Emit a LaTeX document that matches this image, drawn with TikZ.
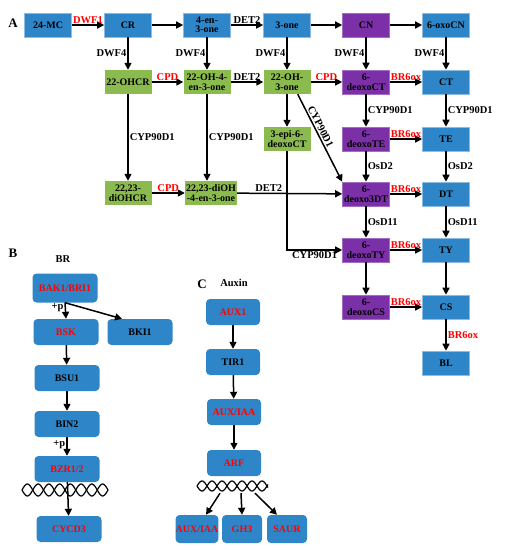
\documentclass[tikz,border=0pt]{standalone}
\usepackage{fontspec}
\setmainfont{Liberation Serif}
\usetikzlibrary{arrows.meta, positioning, calc}
\definecolor{brBlue}{HTML}{2E86C8}
\definecolor{brGreen}{HTML}{8BBB4E}
\definecolor{brPurple}{HTML}{7B30A8}
\definecolor{enzRed}{HTML}{FF0000}

\begin{document}
\begin{tikzpicture}[x=1pt,y=-1pt,
    met/.style={rectangle,minimum width=47pt,minimum height=24pt,inner sep=1pt,align=center,
                font=\fontsize{10}{9.5}\selectfont\bfseries},
    bluebox/.style={met,fill=brBlue,draw=brBlue!55!white,line width=0.6pt},
    greenbox/.style={met,fill=brGreen},
    purplebox/.style={met,fill=brPurple,draw=brPurple!70!white,line width=0.6pt},
    sigbox/.style={rectangle,rounded corners=4pt,fill=brBlue,minimum width=65pt,minimum height=26pt,
                   inner sep=1pt,font=\fontsize{10}{10}\selectfont\bfseries},
    arr/.style={-{Triangle[length=7pt,width=7pt]},line width=1.5pt,black},
    enz/.style={font=\fontsize{10.5}{10.5}\selectfont\bfseries,inner sep=1pt},
    redenz/.style={enz,text=enzRed},
    panel/.style={font=\fontsize{13}{13}\selectfont\bfseries},
    dna/.style={line width=1.2pt,black}
]
    \useasboundingbox (0,0) rectangle (505,550);

    % Panel A: pathway
    \node[panel] (labA) at (13,23) {A};
    \node[bluebox] (mc24) at (48,25) {24-MC};
    \node[bluebox] (cr) at (128,25) {CR};
    \node[bluebox] (en3) at (207,25) {4-en-\\3-one};
    \node[bluebox] (one3) at (287,25) {3-one};
    \node[purplebox] (cn) at (366,25) {CN};
    \node[bluebox] (oxocn) at (446,25) {6-oxoCN};

    \node[greenbox] (ohcr) at (128,82) {22-OHCR};
    \node[greenbox] (ohen) at (207,82) {22-OH-4-\\en-3-one};
    \node[greenbox] (ohone) at (287,82) {22-OH-\\3-one};
    \node[purplebox] (dct) at (366,82) {6-\\deoxoCT};
    \node[bluebox] (ct) at (446,82) {CT};

    \node[greenbox] (epi) at (287,139) {3-epi-6-\\deoxoCT};
    \node[purplebox] (dte) at (366,139) {6-\\deoxoTE};
    \node[bluebox] (te) at (446,139) {TE};

    \node[greenbox] (diohcr) at (128,193) {22,23-\\diOHCR};
    \node[greenbox,minimum width=52pt] (diohen) at (211,193) {22,23-diOH\\-4-en-3-one};
    \node[purplebox] (d3dt) at (366,194) {6-\\deoxo3DT};
    \node[bluebox] (dt) at (446,194) {DT};

    \node[purplebox] (dty) at (366,250) {6-\\deoxoTY};
    \node[bluebox] (ty) at (446,250) {TY};
    \node[purplebox] (dcs) at (366,307) {6-\\deoxoCS};
    \node[bluebox] (cs) at (446,307) {CS};
    \node[bluebox] (bl) at (446,363) {BL};

    % top row
    \draw[arr] (mc24) -- node[redenz,above]{DWF1} (cr);
    \draw[arr] (cr) -- (en3);
    \draw[arr] (en3) -- node[enz,above]{DET2} (one3);
    \draw[arr] (one3) -- (cn);
    \draw[arr] (cn) -- (oxocn);

    % DWF4 steps
    \draw[arr] (cr) -- node[enz,left]{DWF4} (ohcr);
    \draw[arr] (en3) -- node[enz,left]{DWF4} (ohen);
    \draw[arr] (one3) -- node[enz,left]{DWF4} (ohone);
    \draw[arr] (cn) -- node[enz,left]{DWF4} (dct);
    \draw[arr] (oxocn) -- node[enz,left]{DWF4} (ct);

    % second row
    \draw[arr] (ohcr) -- node[redenz,above]{CPD} (ohen);
    \draw[arr] (ohen) -- node[enz,above]{DET2} (ohone);
    \draw[arr] (ohone) -- node[redenz,above]{CPD} (dct);
    \draw[arr] (dct) -- node[redenz,above]{BR6ox} (ct);

    % late C-6 oxidation branch
    \draw[arr] (ohcr) -- node[enz,right]{CYP90D1} (diohcr);
    \draw[arr] (ohen) -- node[enz,right]{CYP90D1} (ohen |- diohen.north);
    \draw[arr] (diohcr) -- node[redenz,above]{CPD} (diohen);
    \draw[arr] (diohen) -- node[enz,above,pos=0.3]{DET2} (d3dt);
    \draw[arr] (ohone) -- (epi);
    \draw[arr] (epi) |- node[enz,below,pos=0.75]{CYP90D1} (dty);
    \draw[arr] (ohone.south east) ++(-13,0) -- node[enz,sloped,above=1.5pt,pos=0.4,inner sep=0pt]{CYP90D1} (d3dt.north west);

    \draw[arr] (dct) -- node[enz,right]{CYP90D1} (dte);
    \draw[arr] (ct) -- node[enz,right]{CYP90D1} (te);
    \draw[arr] (dte) -- node[enz,right]{OsD2} (d3dt);
    \draw[arr] (te) -- node[enz,right]{OsD2} (dt);
    \draw[arr] (d3dt) -- node[enz,right]{OsD11} (dty);
    \draw[arr] (dt) -- node[enz,right]{OsD11} (ty);
    \draw[arr] (dty) -- (dcs);
    \draw[arr] (ty) -- (cs);
    \draw[arr] (cs) -- node[redenz,right]{BR6ox} (bl);

    \draw[arr] (dte) -- node[redenz,above]{BR6ox} (te);
    \draw[arr] (d3dt) -- node[redenz,above]{BR6ox} (dt);
    \draw[arr] (dty) -- node[redenz,above]{BR6ox} (ty);
    \draw[arr] (dcs) -- node[redenz,above]{BR6ox} (cs);

    % Panel B: BR signalling
    \node[panel] (labB) at (13,253) {B};
    \node[enz] (brlab) at (63,259) {BR};
    \node[sigbox,minimum height=29pt,text=enzRed] (bak) at (65,288) {BAK1/BRI1};
    \node[sigbox,text=enzRed] (bsk) at (66,332) {BSK};
    \node[sigbox] (bki) at (140,332) {BKI1};
    \node[sigbox] (bsu) at (67,378) {BSU1};
    \node[sigbox] (bin) at (67,424) {BIN2};
    \node[sigbox,text=enzRed] (bzr) at (67,469) {BZR1/2};
    \node[sigbox,text=enzRed] (cycd) at (69,529) {CYCD3};

    \draw[dna] plot[domain=0:86,samples=100] ({22+\x},{490+6*sin(16.744*\x)});
    \draw[dna] plot[domain=0:86,samples=100] ({22+\x},{490-6*sin(16.744*\x)});

    \draw[arr] (bak.south) -- node[enz,left,pos=0.3]{+p} (bsk.north);
    \draw[arr] (bak.south) -- ($(bki.north)+(-18,0)$);
    \draw[arr] (bsk) -- (bsu);
    \draw[arr] (bsu) -- (bin);
    \draw[arr] (bin) -- node[enz,left,pos=0.4]{+p} (bzr);
    \draw[arr] (bzr) -- (cycd);

    % Panel C: auxin signalling
    \node[panel] (labC) at (202,284) {C};
    \node[enz] (auxlab) at (234,283) {Auxin};
    \node[sigbox,minimum width=54pt,text=enzRed] (aux1) at (233,312) {AUX1};
    \node[sigbox,minimum width=54pt] (tir) at (233,362) {TIR1};
    \node[sigbox,minimum width=54pt,text=enzRed] (iaa) at (234,412) {AUX/IAA};
    \node[sigbox,minimum width=54pt,text=enzRed] (arf) at (234,463) {ARF};
    \node[sigbox,minimum width=40pt,minimum height=28pt,inner sep=0pt,text=enzRed] (auxb) at (197,529) {AUX/IAA};
    \node[sigbox,minimum width=40pt,minimum height=28pt,text=enzRed] (gh3) at (242,529) {GH3};
    \node[sigbox,minimum width=40pt,minimum height=28pt,text=enzRed] (saur) at (287,529) {SAUR};

    \draw[dna] plot[domain=0:71,samples=90] ({197+\x},{486+5*sin(18*\x)});
    \draw[dna] plot[domain=0:71,samples=90] ({197+\x},{486-5*sin(18*\x)});

    \draw[arr] (aux1) -- (tir);
    \draw[arr] (tir) -- (iaa);
    \draw[arr] (iaa) -- (arf);
    \draw[arr] (arf.south) ++(-14,17) -- ($(auxb.north)+(9,0)$);
    \draw[arr] (arf.south) ++(7,17) -- (gh3.north);
    \draw[arr] (arf.south) ++(21,17) -- ($(saur.north)+(-10,0)$);
\end{tikzpicture}
\end{document}
